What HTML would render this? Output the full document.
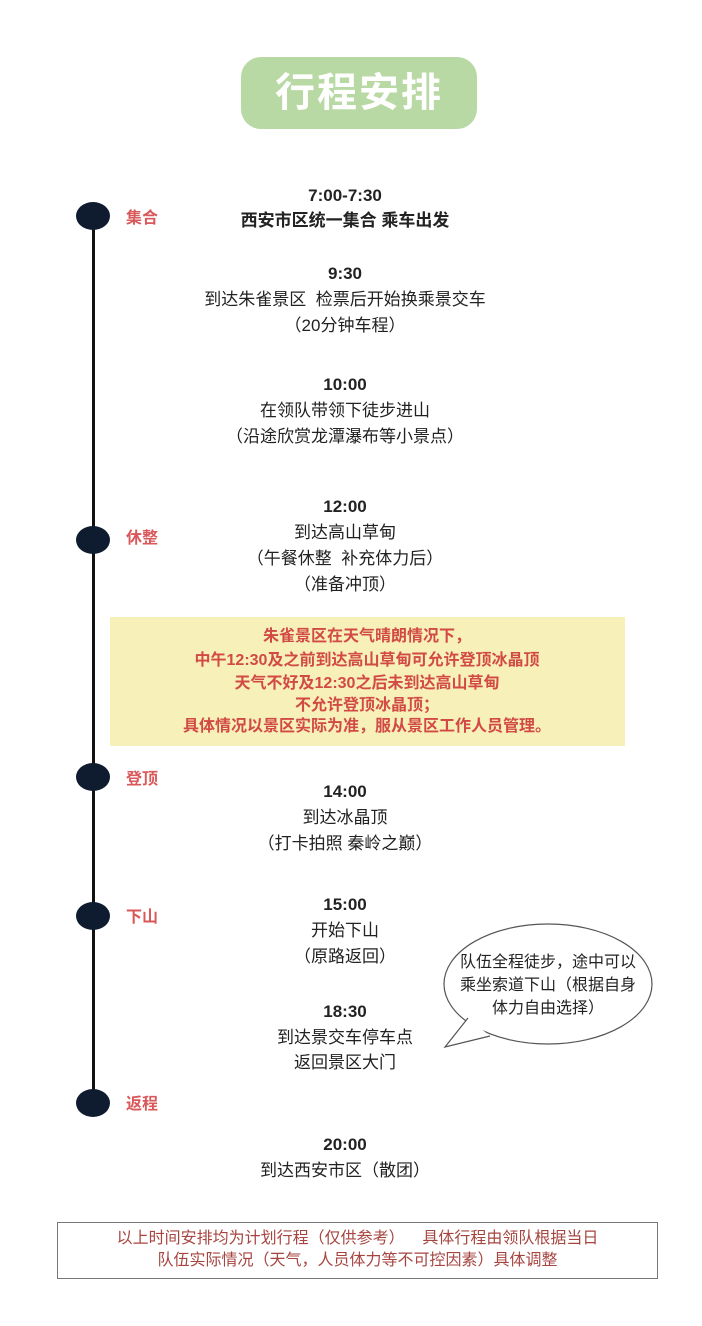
<!DOCTYPE html>
<html><head><meta charset="utf-8"><style>
body{margin:0;width:702px;height:1326px;background:#fff;position:relative;overflow:hidden;font-family:"Liberation Sans","Noto Sans CJK SC",sans-serif;}
.t{position:absolute;left:0;width:690px;text-align:center;font-size:17px;line-height:24px;color:#222;white-space:nowrap;}
.b{font-weight:bold;}
.dot{position:absolute;left:76px;width:34px;height:28px;border-radius:50%;background:#0f1c30;}
.lb{position:absolute;left:126px;font-size:16px;line-height:22px;color:#d9585a;font-weight:bold;}
.y{position:absolute;left:0;width:734px;text-align:center;font-size:16px;line-height:22px;color:#d24a45;font-weight:bold;white-space:nowrap;}
</style></head><body>
<div style="position:absolute;left:241px;top:57px;width:236px;height:72px;border-radius:20px;background:#b8d9a3;color:#fff;font-size:40px;line-height:72px;text-align:center;letter-spacing:2px;font-weight:bold;">行程安排</div>
<div style="position:absolute;left:92px;top:215px;width:3px;height:890px;background:#111;"></div>
<div class="dot" style="top:202px"></div><div class="lb" style="top:208px">集合</div>
<div class="dot" style="top:526px"></div><div class="lb" style="top:528px">休整</div>
<div class="dot" style="top:763px"></div><div class="lb" style="top:769px">登顶</div>
<div class="dot" style="top:902px"></div><div class="lb" style="top:907px">下山</div>
<div class="dot" style="top:1089px"></div><div class="lb" style="top:1094px">返程</div>

<div class="t b" style="top:184px">7:00-7:30</div>
<div class="t b" style="top:209px">西安市区统一集合 乘车出发</div>
<div class="t b" style="top:262px">9:30</div>
<div class="t" style="top:288px">到达朱雀景区&nbsp; 检票后开始换乘景交车</div>
<div class="t" style="top:314px">（20分钟车程）</div>
<div class="t b" style="top:373px">10:00</div>
<div class="t" style="top:399px">在领队带领下徒步进山</div>
<div class="t" style="top:425px">（沿途欣赏龙潭瀑布等小景点）</div>
<div class="t b" style="top:495px">12:00</div>
<div class="t" style="top:521px">到达高山草甸</div>
<div class="t" style="top:547px">（午餐休整&nbsp; 补充体力后）</div>
<div class="t" style="top:573px">（准备冲顶）</div>

<div style="position:absolute;left:110px;top:617px;width:515px;height:129px;background:#f8f0b9;"></div>
<div class="y" style="top:626px">朱雀景区在天气晴朗情况下，</div>
<div class="y" style="top:650px">中午12:30及之前到达高山草甸可允许登顶冰晶顶</div>
<div class="y" style="top:673px">天气不好及12:30之后未到达高山草甸</div>
<div class="y" style="top:695px">不允许登顶冰晶顶；</div>
<div class="y" style="top:716px">具体情况以景区实际为准，服从景区工作人员管理。</div>

<div class="t b" style="top:780px">14:00</div>
<div class="t" style="top:806px">到达冰晶顶</div>
<div class="t" style="top:832px">（打卡拍照 秦岭之巅）</div>
<div class="t b" style="top:893px">15:00</div>
<div class="t" style="top:919px">开始下山</div>
<div class="t" style="top:945px">（原路返回）</div>
<div class="t b" style="top:1000px">18:30</div>
<div class="t" style="top:1026px">到达景交车停车点</div>
<div class="t" style="top:1051px">返回景区大门</div>
<div class="t b" style="top:1133px">20:00</div>
<div class="t" style="top:1159px">到达西安市区（散团）</div>

<svg style="position:absolute;left:0;top:0" width="702" height="1326">
<ellipse cx="548" cy="984" rx="104" ry="60" fill="#fff" stroke="#555" stroke-width="1.2"/>
<polygon points="468,1018 445,1047 490,1036" fill="#fff"/>
<polyline points="468,1018 445,1047 490,1036" fill="none" stroke="#555" stroke-width="1.2"/>
</svg>
<div style="position:absolute;left:440px;top:951px;width:216px;text-align:center;font-size:16px;line-height:23px;color:#222;">队伍全程徒步，途中可以<br>乘坐索道下山（根据自身<br>体力自由选择）</div>

<div style="position:absolute;left:57px;top:1222px;width:601px;height:57px;border:1.5px solid #777;box-sizing:border-box;text-align:center;font-size:16px;line-height:22px;color:#a64540;padding-top:5px;white-space:nowrap;">以上时间安排均为计划行程（仅供参考）&nbsp;&nbsp;&nbsp; 具体行程由领队根据当日<br>队伍实际情况（天气，人员体力等不可控因素）具体调整</div>
</body></html>
